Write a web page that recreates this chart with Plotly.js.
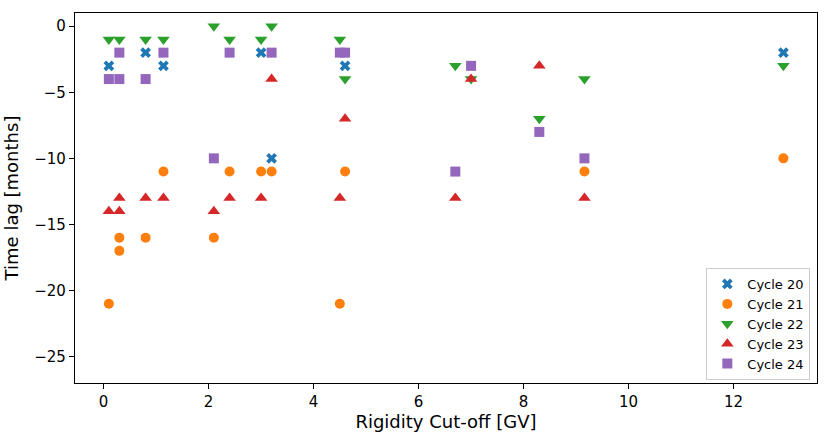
<!DOCTYPE html>
<html>
<head>
<meta charset="utf-8">
<script src="https://cdn.plot.ly/plotly-3.0.1.min.js"></script>
<style>html,body{margin:0;padding:0;background:#fff;}#chart{width:830px;height:441px;}</style>
</head>
<body>
<div id="chart"></div>
<script>
// Rigidity cut-off [GV] and time lag [months] per solar cycle
const cycle20Rigidity = [0.1, 0.8, 1.14, 3.0, 3.2, 4.6, 12.95];
const cycle20Lag      = [-3, -2, -3, -2, -10, -3, -2];

const cycle21Rigidity = [0.1, 0.3, 0.3, 0.8, 1.14, 2.1, 2.4, 3.0, 3.2, 4.5, 4.6, 9.16, 12.95];
const cycle21Lag      = [-21, -16, -17, -16, -11, -16, -11, -11, -11, -21, -11, -11, -10];

const cycle22Rigidity = [0.1, 0.3, 0.8, 1.14, 2.1, 2.4, 3.0, 3.2, 4.5, 4.6, 6.7, 7.0, 8.3, 9.16, 12.95];
const cycle22Lag      = [-1, -1, -1, -1, 0, -1, -1, 0, -1, -4, -3, -4, -7, -4, -3];

const cycle23Rigidity = [0.1, 0.3, 0.3, 0.8, 1.14, 2.1, 2.4, 3.0, 3.2, 4.5, 4.6, 6.7, 7.0, 8.3, 9.16];
const cycle23Lag      = [-14, -13, -14, -13, -13, -14, -13, -13, -4, -13, -7, -13, -4, -3, -13];

const cycle24Rigidity = [0.1, 0.3, 0.3, 0.8, 1.14, 2.1, 2.4, 3.2, 4.5, 4.6, 6.7, 7.0, 8.3, 9.16];
const cycle24Lag      = [-4, -2, -4, -4, -2, -10, -2, -2, -2, -2, -11, -3, -8, -10];

const seriesNames = ['Cycle 20', 'Cycle 21', 'Cycle 22', 'Cycle 23', 'Cycle 24'];
const xTickVals = [0, 2, 4, 6, 8, 10, 12];
const yTickVals = [-25, -20, -15, -10, -5, 0];

const xs = [cycle20Rigidity, cycle21Rigidity, cycle22Rigidity, cycle23Rigidity, cycle24Rigidity];
const ys = [cycle20Lag, cycle21Lag, cycle22Lag, cycle23Lag, cycle24Lag];
const colors = ['#1f77b4', '#ff7f0e', '#2ca02c', '#d62728', '#9467bd'];
const symbols = ['x', 'circle', 'triangle-down', 'triangle-up', 'square'];
const sizes = [9.5, 10, 11, 11, 10];

const traces = seriesNames.map((name, i) => ({
  type: 'scatter',
  mode: 'markers',
  name: name,
  x: xs[i],
  y: ys[i],
  marker: {color: colors[i], symbol: symbols[i], size: sizes[i], line: {width: 0}}
}));

const axisCommon = {
  showgrid: false,
  zeroline: false,
  showline: true,
  mirror: true,
  linecolor: '#000',
  linewidth: 1.2,
  ticks: 'outside',
  ticklen: 5,
  tickwidth: 1.2,
  tickcolor: '#000',
  tickfont: {family: 'DejaVu Sans', size: 15, color: '#000'}
};

const layout = {
  width: 830,
  height: 441,
  margin: {l: 75, r: 13, t: 13, b: 58},
  paper_bgcolor: '#fff',
  plot_bgcolor: '#fff',
  font: {family: 'DejaVu Sans', color: '#000'},
  showlegend: true,
  xaxis: Object.assign({}, axisCommon, {
    range: [-0.545, 13.59],
    tickvals: xTickVals,
    ticktext: xTickVals.map(String),
    title: {text: 'Rigidity Cut-off [GV]', font: {family: 'DejaVu Sans', size: 18, color: '#000'}, standoff: 4}
  }),
  yaxis: Object.assign({}, axisCommon, {
    range: [-27, 1],
    tickvals: yTickVals,
    title: {text: 'Time lag [months]', font: {family: 'DejaVu Sans', size: 18, color: '#000'}, standoff: 10}
  }),
  legend: {
    x: 0.991, y: 0.008, xanchor: 'right', yanchor: 'bottom',
    bgcolor: 'rgba(255,255,255,0.8)',
    bordercolor: '#cccccc',
    borderwidth: 1,
    font: {family: 'DejaVu Sans', size: 13, color: '#000'}
  }
};

Plotly.newPlot('chart', traces, layout, {displayModeBar: false, staticPlot: true});
</script>
</body>
</html>
